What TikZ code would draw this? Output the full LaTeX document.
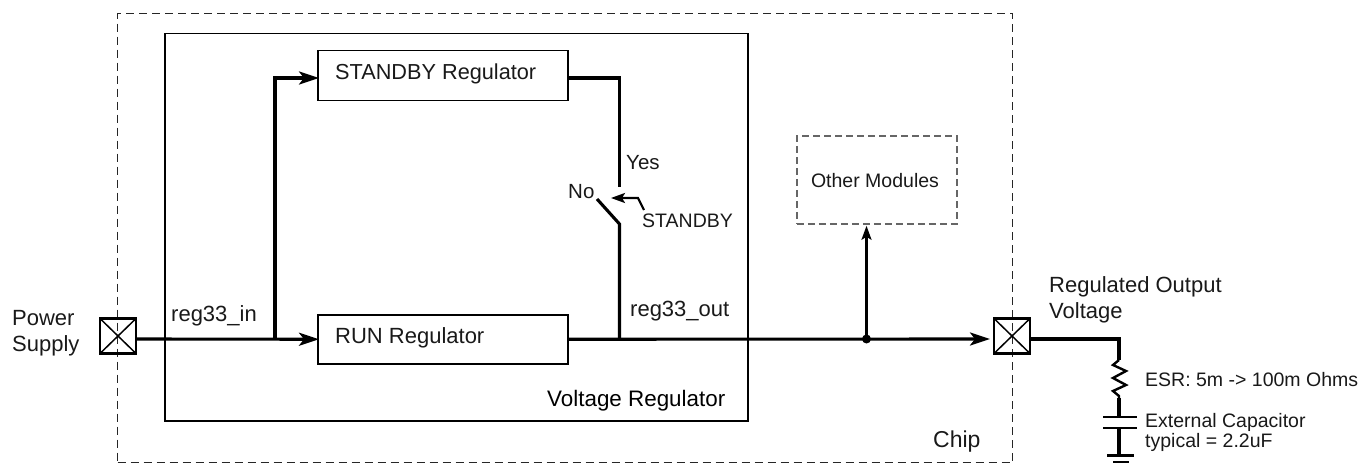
\documentclass[tikz,border=0pt]{standalone}
\usepackage{fontspec}
\setmainfont{Liberation Sans}
\usetikzlibrary{arrows.meta}
\tikzset{
  lbl/.style={inner sep=0pt,anchor=west,align=left,font=\fontsize{22}{26}\selectfont,text=black!90},
  small/.style={inner sep=0pt,anchor=west,align=left,font=\fontsize{19.5}{20}\selectfont,text=black!90},
  regbox/.style={draw,line width=1.5pt,minimum width=250pt,inner sep=0pt},
  pad/.style={draw,line width=2.4pt,minimum width=36pt,minimum height=35pt,inner sep=0pt,path picture={\draw[line width=1.5pt] (path picture bounding box.north west)--(path picture bounding box.south east) (path picture bounding box.north east)--(path picture bounding box.south west);}},
  wire/.style={line width=3.1pt},
  arr/.style={wire,-{Stealth[length=20pt,width=13pt,inset=5pt]}},
  thin arr/.style={line width=2.2pt,-{Stealth[length=14pt,width=10pt,inset=3pt]}},
}
\begin{document}
\begin{tikzpicture}[x=1pt,y=-1pt]
\useasboundingbox (0,0) rectangle (1359,465);
\node[draw=black!85,dash pattern=on 8pt off 5pt,line width=1.2pt,minimum width=895pt,minimum height=449pt,inner sep=0pt,anchor=north west] (chip) at (117,13) {};
\node[draw,line width=1.5pt,minimum width=583pt,minimum height=387pt,inner sep=0pt,anchor=north west] (vr) at (164,33) {};
\node[regbox,minimum height=50pt,anchor=north west] (standby) at (317,50) {};
\node[lbl,font=\fontsize{21.7}{26}\selectfont] (standbytext) at (335,74) {STANDBY Regulator};
\node[regbox,minimum height=49pt,anchor=north west] (run) at (317,314) {};
\node[lbl] (runtext) at (335,338) {RUN Regulator};
\node[draw=black!60,dash pattern=on 7pt off 4pt,line width=1.8pt,minimum width=160pt,minimum height=88pt,anchor=north west,inner sep=0pt] (other) at (796,135) {};
\node[small,anchor=center] (othertext) at (875,181) {Other Modules};
\node[pad] (pin) at (118,336) {};
\node[pad] (pout) at (1012,336) {};
\node[lbl] (pw) at (12,333) {Power\\Supply};
\node[lbl] (regout) at (1049,300) {Regulated Output\\Voltage};
\node[lbl] (regin) at (171,316) {reg33\_in};
\node[lbl] (regoutl) at (630,311) {reg33\_out};
\node[lbl,text=black,font=\fontsize{22.4}{26}\selectfont] (vrl) at (547,400.5) {Voltage Regulator};
\node[lbl,font=\fontsize{23}{26}\selectfont] (chipl) at (933,442) {Chip};
\node[small,font=\fontsize{20.5}{20}\selectfont] (yes) at (626,163) {Yes};
\node[small,font=\fontsize{20.5}{20}\selectfont] (no) at (568,192) {No};
\node[small] (stb) at (642,221) {STANDBY};
\node[small] (esr) at (1145,380) {ESR: 5m -> 100m Ohms};
\node[small] (cap) at (1145,432) {External Capacitor\\typical = 2.2uF};
\coordinate (j1) at (275,339);
\coordinate (top) at (275,78);
\coordinate (sw) at (619.5,78);
\coordinate (swa) at (619.5,187);
\coordinate (swb) at (619.5,224);
\coordinate (swc) at (597,199);
\coordinate (j2) at (619.5,339);
\coordinate (j3) at (866.5,339);
\coordinate (c1) at (1119,339);
\coordinate (r1) at (1119,360);
\coordinate (r2) at (1119,398);
\coordinate (k1) at (1119,417);
\coordinate (k2) at (1119,428);
\coordinate (g) at (1119,455);
\coordinate (s1) at (644,210);
\coordinate (s2) at (638,198);
\coordinate (s3) at (611,198);
\coordinate (pi) at (pin.east |- j1);
\coordinate (po) at (pout.east |- j1);
\coordinate (pw2) at (990,339);
\draw[arr,shorten >=-2pt] (pi) -- (run.west);
\draw[arr,shorten >=-2pt] (j1) -- (top) -- (standby.west |- top);
\draw[wire,line join=miter] (standby.east |- top) -- (sw) -- (swa);
\draw[arr] (run.east) -- (pw2);
\draw[wire,line join=miter] (j2) -- (swb) -- (swc);
\draw[thin arr] (s1) -- (s2) -- (s3);
\draw[thin arr,shorten >=1pt] (j3) -- (other.south -| j3);
\fill (j3) circle (4.5pt);
\draw[wire] (po) -- (c1) -- (r1);
\draw[line width=2.4pt,line join=miter] (r1) -- (1113,365) -- (1126,371) -- (1113,378) -- (1126,385) -- (1113,391) -- (1119,396) -- (r2);
\draw[wire] (r2) -- (k1);
\draw[line width=2.6pt] (1103,417) -- (1137,417) (1103,428) -- (1137,428);
\draw[wire] (k2) -- (g);
\draw[line width=2.6pt] (1107,455.5) -- (1134,455.5) (1113,462) -- (1129,462);
\end{tikzpicture}
\end{document}
